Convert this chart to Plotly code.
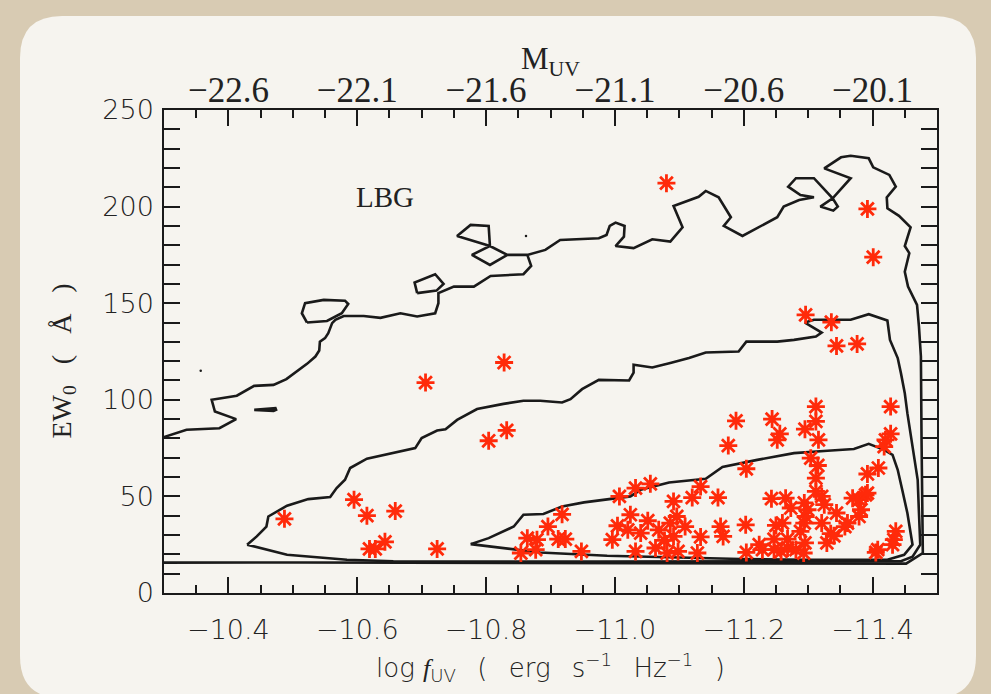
import plotly.graph_objects as go

# ---------------- data (log f_UV , EW0) ----------------
star_logf = [-10.487, -10.595, -10.615, -10.659, -10.643, -10.619, -10.628, -10.706, -10.724, -10.804,
             -10.828, -10.832, -10.854, -10.864, -10.879, -10.877, -10.896, -10.912, -10.918, -10.923,
             -10.948, -10.996, -11.004, -11.007, -11.020, -11.024, -11.032, -11.032, -11.040, -11.051,
             -11.055, -11.063, -11.068, -11.077, -11.080, -11.081, -11.086, -11.091, -11.091, -11.096,
             -11.098, -11.109, -11.120, -11.128, -11.133, -11.133, -11.160, -11.164, -11.168, -11.176,
             -11.188, -11.203, -11.204, -11.204, -11.224, -11.229, -11.243, -11.244, -11.247, -11.247,
             -11.250, -11.252, -11.256, -11.258, -11.260, -11.265, -11.268, -11.268, -11.273, -11.281,
             -11.288, -11.293, -11.294, -11.294, -11.295, -11.295, -11.296, -11.296, -11.299, -11.304,
             -11.312, -11.312, -11.312, -11.312, -11.315, -11.316, -11.321, -11.321, -11.325, -11.329,
             -11.335, -11.336, -11.340, -11.344, -11.344, -11.357, -11.361, -11.369, -11.376, -11.379,
             -11.379, -11.382, -11.389, -11.392, -11.392, -11.392, -11.401, -11.405, -11.408, -11.409,
             -11.418, -11.420, -11.428, -11.428, -11.431, -11.433, -11.436]
star_ew = [38.4, 48.3, 40.0, 42.4, 26.5, 22.8, 22.8, 108.9, 22.8, 78.8,
           119.3, 84.2, 20.7, 28.4, 27.6, 22.4, 34.4, 27.9, 40.7, 27.9,
           21.5, 27.6, 34.8, 50.0, 32.7, 40.5, 54.3, 21.5, 31.0, 37.4,
           56.5, 23.3, 32.7, 27.2, 212.1, 20.7, 36.2, 47.4, 29.3, 39.6,
           21.5, 34.4, 49.4, 20.7, 55.1, 29.0, 49.4, 34.4, 29.3, 76.3,
           89.1, 35.3, 64.3, 21.0, 25.0, 22.4, 48.8, 90.0, 27.9, 22.4,
           35.0, 79.3, 82.4, 21.5, 36.2, 49.1, 27.9, 23.3, 44.0, 22.4,
           31.9, 20.7, 46.6, 36.2, 84.8, 25.9, 144.0, 39.6, 43.1, 69.8,
           96.5, 52.6, 88.8, 59.5, 66.0, 79.3, 50.0, 36.2, 45.7, 25.9,
           30.7, 140.2, 29.6, 127.9, 41.4, 34.4, 36.2, 49.1, 128.9, 48.3,
           39.6, 43.1, 50.8, 198.8, 61.6, 51.7, 173.8, 21.0, 22.4, 64.7,
           75.8, 79.3, 96.5, 82.4, 25.0, 27.6, 31.9]

outer_logf = [-10.300, -10.335, -10.386, -10.412, -10.379, -10.374, -10.413, -10.440, -10.470, -10.490,
              -10.522, -10.535, -10.541, -10.542, -10.550, -10.555, -10.561, -10.566, -10.579, -10.610,
              -10.636, -10.667, -10.693, -10.721, -10.726, -10.726, -10.750, -10.781, -10.807, -10.858,
              -10.870, -10.864, -10.833, -10.806, -10.778, -10.806, -10.804, -10.776, -10.755, -10.806,
              -10.833, -10.864, -10.892, -10.915, -10.975, -10.987, -10.992, -11.001, -11.015, -11.014,
              -11.001, -11.029, -11.058, -11.086, -11.105, -11.091, -11.130, -11.141, -11.161, -11.180,
              -11.169, -11.198, -11.252, -11.262, -11.286, -11.309, -11.288, -11.269, -11.281, -11.309,
              -11.338, -11.346, -11.339, -11.319, -11.338, -11.366, -11.325, -11.351, -11.366, -11.394,
              -11.401, -11.426, -11.436, -11.422, -11.423, -11.441, -11.459, -11.450, -11.457, -11.450,
              -11.455, -11.469, -11.472, -11.475, -11.476, -11.478, -11.452, -10.978, -10.511, -10.300]
outer_ew = [80.7, 84.5, 85.3, 90.0, 93.9, 100.0, 102.1, 107.2, 107.7, 110.7,
            118.6, 122.4, 125.5, 130.1, 131.9, 134.5, 139.7, 141.4, 143.4, 143.4,
            142.4, 144.8, 143.1, 144.8, 150.0, 155.2, 158.6, 158.6, 164.1, 165.0,
            169.3, 175.0, 175.0, 169.8, 175.0, 179.6, 190.0, 190.5, 184.8, 179.6,
            175.0, 175.0, 177.6, 182.7, 183.6, 185.3, 190.0, 191.7, 190.0, 184.4,
            179.6, 178.5, 183.1, 181.9, 189.3, 200.3, 205.1, 208.1, 204.8, 194.5,
            190.0, 184.8, 194.5, 200.0, 203.4, 204.8, 206.0, 210.3, 214.7, 214.7,
            204.3, 200.0, 197.9, 200.0, 204.3, 214.7, 219.8, 225.5, 226.3, 225.0,
            220.3, 216.4, 210.3, 204.8, 199.1, 195.2, 189.3, 179.6, 175.9, 166.3,
            158.6, 149.1, 137.9, 122.4, 79.3, 20.7, 15.2, 15.7, 15.8, 15.7]

island_logf = [-10.440, -10.473, -10.474, -10.470, -10.440, None,
               -10.522, -10.514, -10.519, -10.548, -10.581, -10.586, -10.576, -10.553, -10.522, None,
               -10.693, -10.689, -10.721, -10.734, -10.723, -10.693]
island_ew = [94.8, 95.7, 94.8, 94.2, 94.8, None,
             140.0, 144.8, 150.0, 151.7, 151.3, 149.6, 144.8, 140.8, 140.0, None,
             155.2, 160.7, 165.0, 160.0, 156.5, 155.2]

dot_logf = [-10.357, -10.862]
dot_ew = [115.0, 184.8]

mid_logf = [-10.429, -10.444, -10.459, -10.462, -10.491, -10.524, -10.558, -10.568, -10.581, -10.589,
            -10.615, -10.656, -10.690, -10.700, -10.724, -10.737, -10.755, -10.786, -10.827, -10.858,
            -10.884, -10.918, -10.931, -10.949, -10.975, -11.022, -11.029, -11.029, -11.058, -11.086,
            -11.115, -11.141, -11.192, -11.204, -11.252, -11.278, -11.312, -11.321, -11.295, -11.309,
            -11.366, -11.394, -11.423, -11.427, -11.439, -11.444, -11.450, -11.454, -11.462, -11.470,
            -11.472, -11.474, -11.462, -11.444, -10.978, -10.744, -10.656, -10.584, -10.491, -10.429]
mid_ew = [25.0, 29.3, 34.4, 39.6, 45.2, 48.6, 49.7, 54.3, 58.6, 64.7,
          69.5, 72.4, 75.0, 80.2, 84.1, 84.8, 89.6, 95.2, 97.9, 99.5,
          99.5, 98.6, 100.3, 105.5, 110.3, 110.0, 114.1, 118.1, 116.7, 119.0,
          121.6, 124.5, 125.0, 130.1, 130.1, 131.0, 132.7, 134.8, 140.0, 141.4,
          141.4, 144.3, 141.0, 131.0, 121.6, 113.8, 103.4, 93.1, 75.8, 58.6,
          41.4, 25.0, 18.8, 16.4, 16.3, 16.2, 16.4, 17.2, 19.8, 25.0]

in_logf = [-10.776, -10.804, -10.843, -10.858, -10.889, -10.918, -10.952, -11.024, -11.040, -11.084,
           -11.141, -11.167, -11.221, -11.278, -11.330, -11.371, -11.394, -11.418, -11.431, -11.439,
           -11.446, -11.454, -11.462, -11.449, -11.423, -11.299, -11.195, -11.091, -10.988, -10.884,
           -10.776]
in_ew = [25.3, 28.4, 34.4, 40.5, 40.9, 44.8, 46.9, 50.0, 53.4, 57.2,
         59.1, 65.2, 68.9, 72.4, 73.6, 74.5, 77.2, 74.1, 71.5, 63.8,
         53.4, 41.4, 25.0, 19.8, 17.2, 17.2, 17.6, 18.6, 19.3, 21.0,
         25.3]

x_ticks = [-10.4, -10.6, -10.8, -11.0, -11.2, -11.4]
y_ticks = [0, 50, 100, 150, 200, 250]
muv_labels = [-22.6, -22.1, -21.6, -21.1, -20.6, -20.1]
x_range = [-10.3, -11.5]
y_range = [0, 250]

# M_UV = -2.5 log f_UV - 48.6
muv_pos = [-(m + 48.6) / 2.5 for m in muv_labels]
muv_text = [("%.1f" % m).replace("-", "\u2212") for m in muv_labels]

INK = "#1a1a1a"
TXT = "#222"
STAR = "#ff2a0a"
line_style = dict(color=INK, width=2.6)

fig = go.Figure()
fig.add_trace(go.Scatter(x=outer_logf, y=outer_ew, mode="lines", line=line_style, hoverinfo="skip"))
fig.add_trace(go.Scatter(x=island_logf, y=island_ew, mode="lines", line=line_style, hoverinfo="skip"))
fig.add_trace(go.Scatter(x=mid_logf, y=mid_ew, mode="lines", line=line_style, hoverinfo="skip"))
fig.add_trace(go.Scatter(x=in_logf, y=in_ew, mode="lines", line=line_style, hoverinfo="skip"))
fig.add_trace(go.Scatter(x=dot_logf, y=dot_ew, mode="markers",
                         marker=dict(size=2.5, color=INK), hoverinfo="skip"))
fig.add_trace(go.Scatter(x=star_logf, y=star_ew, mode="markers",
                         marker=dict(symbol="asterisk-open", size=15, color=STAR,
                                     line=dict(color=STAR, width=2.8))))
fig.add_trace(go.Scatter(x=[x_range[0]], y=[y_range[0]], xaxis="x2", mode="markers",
                         marker=dict(size=0.1, opacity=0), hoverinfo="skip"))

axis_font = dict(family="DejaVu Sans", size=27, color=TXT, weight=300)
serif = "Liberation Serif"

L, B = 164, 593
x0p, x1p, y0p, y1p, r = 20 - L, 976 - L, -(698 - B), B - 16, 42
panel = (f"M{x0p + r},{y0p} L{x1p - r},{y0p} Q{x1p},{y0p} {x1p},{y0p + r} "
         f"L{x1p},{y1p - r} Q{x1p},{y1p} {x1p - r},{y1p} L{x0p + r},{y1p} "
         f"Q{x0p},{y1p} {x0p},{y1p - r} L{x0p},{y0p + r} Q{x0p},{y0p} {x0p + r},{y0p} Z")

sp = "\u2002 "
x_title = ("log <span style='font-family:Liberation Serif'><i>f</i></span><sub>UV</sub>" + sp + "(" + sp +
           "erg" + sp + "s<sup>\u22121</sup>" + sp + "Hz<sup>\u22121</sup>" + sp + ")")
y_title = "EW<sub>0</sub>\u2002 (\u2002 \u00c5\u2002 )"

fig.update_layout(
    width=991, height=694,
    margin=dict(l=164, r=54, t=110, b=101),
    paper_bgcolor="#d8cbb3",
    plot_bgcolor="rgba(0,0,0,0)",
    showlegend=False,
    shapes=[dict(type="path", xref="paper", yref="paper", xanchor=0, yanchor=0,
                 xsizemode="pixel", ysizemode="pixel", path=panel,
                 fillcolor="#f6f4ef", line=dict(width=0), layer="below")],
    xaxis=dict(range=x_range, tickvals=x_ticks, tickformat=".1f",
               ticks="inside", ticklen=16, tickwidth=1.5, tickcolor=INK,
               showline=True, linecolor=INK, linewidth=1.5, mirror="allticks",
               showgrid=False, zeroline=False, automargin=False,
               minor=dict(dtick=0.05, tick0=-10.3, ticks="inside", ticklen=8,
                          tickwidth=1.5, tickcolor=INK, showgrid=False),
               tickfont=axis_font, ticklabelstandoff=12),
    xaxis2=dict(range=x_range, overlaying="x", side="top", tickvals=muv_pos, ticktext=muv_text,
                ticks="", showline=False, showgrid=False, zeroline=False, automargin=False,
                tickfont=dict(family=serif, size=35, color=TXT), ticklabelstandoff=0),
    yaxis=dict(range=y_range, tickvals=y_ticks,
               ticks="inside", ticklen=16, tickwidth=1.5, tickcolor=INK,
               showline=True, linecolor=INK, linewidth=1.5, mirror="allticks",
               showgrid=False, zeroline=False, automargin=False,
               minor=dict(dtick=10, ticks="inside", ticklen=8, tickwidth=1.5,
                          tickcolor=INK, showgrid=False),
               tickfont=axis_font, ticklabelstandoff=3),
    annotations=[
        dict(x=-10.643, y=205, xref="x", yref="y", text="LBG", showarrow=False,
             font=dict(family=serif, size=29, color=TXT)),
        dict(x=0.5, y=1, xref="paper", yref="paper", text="M<sub>UV</sub>", showarrow=False,
             xanchor="center", yanchor="middle", yshift=49,
             font=dict(family=serif, size=31, color=TXT)),
        dict(x=0.5, y=0, xref="paper", yref="paper", text=x_title, showarrow=False,
             xanchor="center", yanchor="middle", yshift=-74,
             font=dict(family="DejaVu Sans", size=26, color=TXT, weight=300)),
        dict(x=0, y=0.5, xref="paper", yref="paper", text=y_title, showarrow=False,
             textangle=-90, xanchor="center", yanchor="middle", xshift=-101, yshift=-10,
             font=dict(family=serif, size=28, color=TXT)),
    ],
)

fig.write_html("out.html", config={"displayModeBar": False},
               post_script="document.body.style.margin='0';document.body.style.padding='0';"
                           "document.body.style.background='#d8cbb3';")
